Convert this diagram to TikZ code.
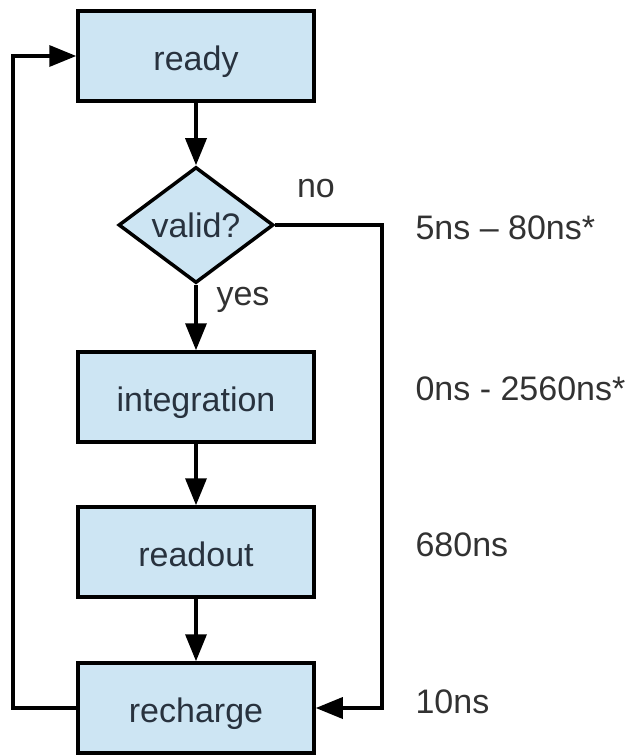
\documentclass[tikz,border=0pt]{standalone}
\usepackage{fontspec}
\setmainfont{Liberation Sans}
\usetikzlibrary{arrows.meta,shapes.geometric}

\definecolor{stepfill}{RGB}{205,229,243}
\definecolor{steptext}{RGB}{40,50,62}
\definecolor{timetext}{RGB}{50,50,50}

\begin{document}
\begin{tikzpicture}[x=1pt,y=-1pt,
  every node/.style={font=\fontsize{34}{40}\selectfont},
  stage/.style={rectangle,draw,line width=3.5pt,fill=stepfill,text=steptext,minimum width=236pt,minimum height=90pt,inner sep=0pt,text height=35pt,text depth=7pt},
  check/.style={diamond,draw,line width=3.5pt,fill=stepfill,text=steptext,minimum width=155pt,minimum height=116pt,inner sep=0pt},
  flow/.style={line width=3.5pt,-{Triangle[length=27pt,width=21pt]}},
  timing/.style={anchor=west,text=timetext}]
\useasboundingbox (0,0) rectangle (634,755);
\coordinate (RDY) at (196,56);
\coordinate (VAL) at (196,225);
\coordinate (INT) at (196,397);
\coordinate (OUT) at (196,552);
\coordinate (CHG) at (196,708);
\coordinate (L) at (13,56);
\coordinate (R) at (382,708);
\node[stage] (ready) at (RDY) {ready};
\node[check] (valid) at (VAL) {valid?};
\node[stage] (integration) at (INT) {integration};
\node[stage] (readout) at (OUT) {readout};
\node[stage] (recharge) at (CHG) {recharge};
\draw[flow] (ready) -- (valid);
\draw[flow] (valid) -- (integration);
\draw[flow] (integration) -- (readout);
\draw[flow] (readout) -- (recharge);
\draw[flow] (valid.east) -| (R) -- (recharge.east);
\draw[flow] (recharge.west) -| (L) -- (ready.west);
\node[text=timetext] (yes) at (243,300) {yes};
\node[text=timetext] (no) at (316,189) {no};
\node[timing] (t1) at (412,228) {5ns -- 80ns*};
\node[timing] (t2) at (412,389) {0ns - 2560ns*};
\node[timing] (t3) at (412,545) {680ns};
\node[timing] (t4) at (412,702) {10ns};
\end{tikzpicture}
\end{document}
